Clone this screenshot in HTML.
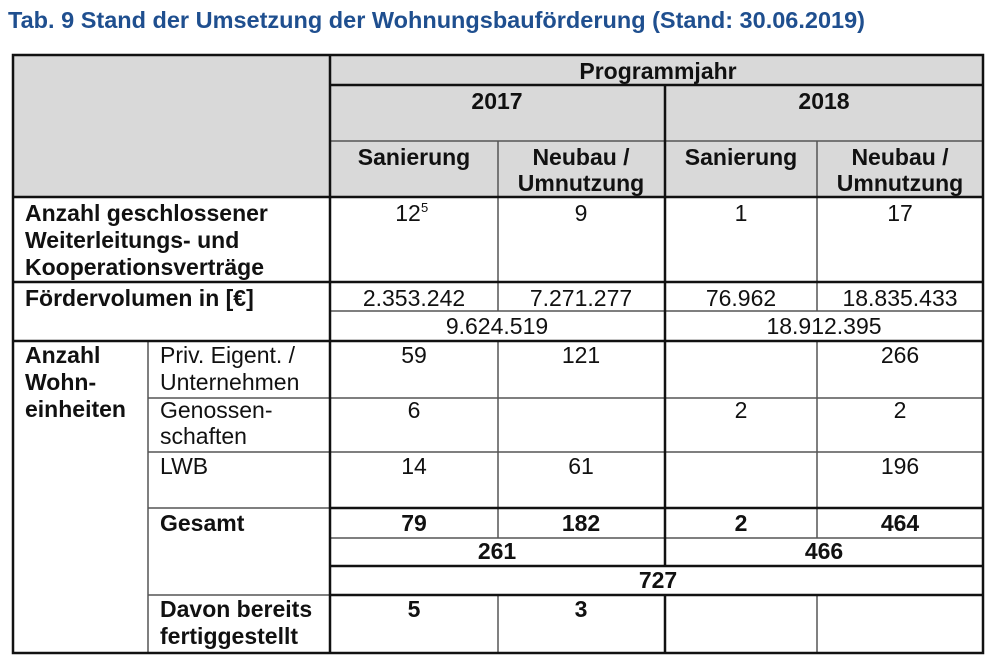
<!DOCTYPE html>
<html><head><meta charset="utf-8"><style>
body{margin:0;background:#fff;width:1000px;height:663px;overflow:hidden}
svg text{font-family:"Liberation Sans",Arial,sans-serif;font-size:23px;fill:#111}
.b{font-weight:bold}
.c{text-anchor:middle}
</style></head><body>
<svg width="1000" height="663" xmlns="http://www.w3.org/2000/svg">
<text x="8" y="28" class="b" style="fill:#1f4f8f;font-size:23.5px">Tab. 9 Stand der Umsetzung der Wohnungsbauförderung (Stand: 30.06.2019)</text>
<rect x="13" y="55" width="970" height="142" fill="#d9d9d9"/>
<g stroke="#555" stroke-width="1.5">
<line x1="498" y1="141" x2="498" y2="311"/>
<line x1="817" y1="141" x2="817" y2="311"/>
<line x1="498" y1="341" x2="498" y2="538"/>
<line x1="817" y1="341" x2="817" y2="538"/>
<line x1="498" y1="595" x2="498" y2="653"/>
<line x1="817" y1="595" x2="817" y2="653"/>
<line x1="330" y1="141" x2="983" y2="141"/>
<line x1="330" y1="311" x2="983" y2="311"/>
<line x1="148" y1="398" x2="983" y2="398"/>
<line x1="148" y1="452" x2="983" y2="452"/>
<line x1="148" y1="508" x2="330" y2="508"/>
<line x1="330" y1="538" x2="983" y2="538"/>
<line x1="148" y1="595" x2="330" y2="595"/>
<line x1="148" y1="341" x2="148" y2="653"/>
</g>
<g stroke="#111" stroke-width="2.5" fill="none">
<rect x="13" y="55" width="970" height="598"/>
<line x1="330" y1="55" x2="330" y2="653"/>
<line x1="665" y1="85" x2="665" y2="566"/>
<line x1="665" y1="595" x2="665" y2="653"/>
<line x1="330" y1="85" x2="983" y2="85"/>
<line x1="13" y1="197" x2="983" y2="197"/>
<line x1="13" y1="282" x2="983" y2="282"/>
<line x1="13" y1="341" x2="983" y2="341"/>
<line x1="330" y1="508" x2="983" y2="508"/>
<line x1="330" y1="566" x2="983" y2="566"/>
<line x1="330" y1="595" x2="983" y2="595"/>
</g>
<text x="658" y="79" class="b c">Programmjahr</text>
<text x="497" y="109" class="b c">2017</text>
<text x="824" y="109" class="b c">2018</text>
<text x="414" y="165" class="b c">Sanierung</text>
<text x="581" y="165" class="b c">Neubau /</text>
<text x="581" y="191" class="b c">Umnutzung</text>
<text x="741" y="165" class="b c">Sanierung</text>
<text x="900" y="165" class="b c">Neubau /</text>
<text x="900" y="191" class="b c">Umnutzung</text>
<text x="25" y="221" class="b">Anzahl geschlossener</text>
<text x="25" y="248" class="b">Weiterleitungs- und</text>
<text x="25" y="275" class="b">Kooperationsverträge</text>
<text x="408" y="221" class="c">12</text><text x="421" y="212" style="font-size:13px">5</text>
<text x="581" y="221" class="c">9</text>
<text x="741" y="221" class="c">1</text>
<text x="900" y="221" class="c">17</text>
<text x="25" y="306" class="b">Fördervolumen in [€]</text>
<text x="414" y="306" class="c">2.353.242</text>
<text x="581" y="306" class="c">7.271.277</text>
<text x="741" y="306" class="c">76.962</text>
<text x="900" y="306" class="c">18.835.433</text>
<text x="497" y="334" class="c">9.624.519</text>
<text x="824" y="334" class="c">18.912.395</text>
<text x="25" y="363" class="b">Anzahl</text>
<text x="25" y="390" class="b">Wohn-</text>
<text x="25" y="417" class="b">einheiten</text>
<text x="160" y="363">Priv. Eigent. /</text>
<text x="160" y="390">Unternehmen</text>
<text x="414" y="363" class="c">59</text>
<text x="581" y="363" class="c">121</text>
<text x="900" y="363" class="c">266</text>
<text x="160" y="418">Genossen-</text>
<text x="160" y="444">schaften</text>
<text x="414" y="418" class="c">6</text>
<text x="741" y="418" class="c">2</text>
<text x="900" y="418" class="c">2</text>
<text x="160" y="474">LWB</text>
<text x="414" y="474" class="c">14</text>
<text x="581" y="474" class="c">61</text>
<text x="900" y="474" class="c">196</text>
<text x="160" y="531" class="b">Gesamt</text>
<text x="414" y="531" class="b c">79</text>
<text x="581" y="531" class="b c">182</text>
<text x="741" y="531" class="b c">2</text>
<text x="900" y="531" class="b c">464</text>
<text x="497" y="559" class="b c">261</text>
<text x="824" y="559" class="b c">466</text>
<text x="658" y="588" class="b c">727</text>
<text x="160" y="617" class="b">Davon bereits</text>
<text x="160" y="644" class="b">fertiggestellt</text>
<text x="414" y="617" class="b c">5</text>
<text x="581" y="617" class="b c">3</text>
</svg>
</body></html>
